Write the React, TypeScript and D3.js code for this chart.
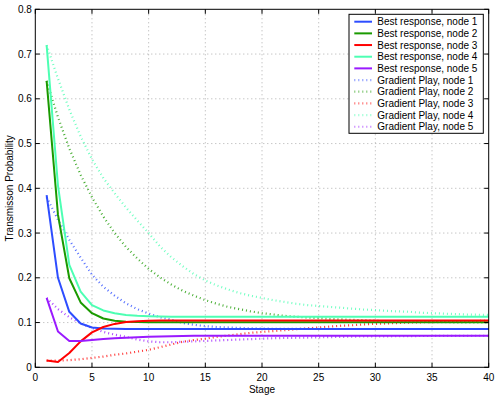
import * as d3 from "d3";

const stages = [
  1, 2, 3, 4, 5, 6, 7, 8, 9, 10, 11, 12, 13, 14, 15, 16, 17, 18, 19, 20,
  21, 22, 23, 24, 25, 26, 27, 28, 29, 30, 31, 32, 33, 34, 35, 36, 37, 38, 39, 40,
];

const brNode1 = [
  0.385, 0.2, 0.124, 0.098, 0.089, 0.0865, 0.086, 0.0858, 0.0857, 0.0856,
  0.0856, 0.0856, 0.0856, 0.0856, 0.0856, 0.0856, 0.0856, 0.0856, 0.0856, 0.0856,
  0.0856, 0.0856, 0.0856, 0.0856, 0.0856, 0.0856, 0.0856, 0.0856, 0.0856, 0.0856,
  0.0856, 0.0856, 0.0856, 0.0856, 0.0856, 0.0856, 0.0856, 0.0856, 0.0856, 0.0856,
];
const brNode2 = [
  0.64, 0.341, 0.199, 0.145, 0.121, 0.109, 0.104, 0.102, 0.101, 0.1005,
  0.1005, 0.1005, 0.1005, 0.1005, 0.1005, 0.1005, 0.1005, 0.1005, 0.1005, 0.1005,
  0.1005, 0.1005, 0.1005, 0.1005, 0.1005, 0.1005, 0.1005, 0.1005, 0.1005, 0.1005,
  0.1005, 0.1005, 0.1005, 0.1005, 0.1005, 0.1005, 0.1005, 0.1005, 0.1005, 0.1005,
];
const brNode3 = [
  0.015, 0.012, 0.032, 0.058, 0.078, 0.09, 0.097, 0.101, 0.103, 0.104,
  0.1045, 0.1045, 0.1045, 0.1045, 0.1045, 0.1045, 0.1045, 0.1045, 0.1045, 0.1045,
  0.1045, 0.1045, 0.1045, 0.1045, 0.1045, 0.1045, 0.1045, 0.1045, 0.1045, 0.1045,
  0.1045, 0.1045, 0.1045, 0.1045, 0.1045, 0.1045, 0.1045, 0.1045, 0.1045, 0.1045,
];
const brNode4 = [
  0.72, 0.406, 0.229, 0.169, 0.139, 0.127, 0.121, 0.117, 0.115, 0.114,
  0.1135, 0.113, 0.113, 0.113, 0.113, 0.113, 0.113, 0.113, 0.113, 0.113,
  0.113, 0.113, 0.113, 0.113, 0.113, 0.113, 0.113, 0.113, 0.113, 0.113,
  0.113, 0.113, 0.113, 0.113, 0.113, 0.113, 0.113, 0.113, 0.113, 0.113,
];
const brNode5 = [
  0.155, 0.08, 0.059, 0.059, 0.061, 0.063, 0.065, 0.066, 0.067, 0.068,
  0.069, 0.0695, 0.07, 0.0705, 0.0705, 0.0705, 0.0705, 0.0705, 0.0705, 0.0705,
  0.0705, 0.0705, 0.0705, 0.0705, 0.0705, 0.0705, 0.0705, 0.0705, 0.0705, 0.0705,
  0.0705, 0.0705, 0.0705, 0.0705, 0.0705, 0.0705, 0.0705, 0.0705, 0.0705, 0.0705,
];

const gpNode1 = [
  0.38, 0.33, 0.285, 0.245, 0.207, 0.18, 0.16, 0.143, 0.13, 0.12,
  0.112, 0.106, 0.099, 0.095, 0.092, 0.09, 0.089, 0.088, 0.087, 0.0865,
  0.086, 0.086, 0.0858, 0.0857, 0.0856, 0.0856, 0.0856, 0.0856, 0.0856, 0.0856,
  0.0856, 0.0856, 0.0856, 0.0856, 0.0856, 0.0856, 0.0856, 0.0856, 0.0856, 0.0856,
];
const gpNode2 = [
  0.64, 0.559, 0.489, 0.43, 0.38, 0.337, 0.3, 0.269, 0.243, 0.22,
  0.201, 0.185, 0.171, 0.16, 0.15, 0.142, 0.135, 0.13, 0.125, 0.121,
  0.118, 0.115, 0.113, 0.111, 0.11, 0.108, 0.107, 0.106, 0.105, 0.104,
  0.103, 0.1025, 0.102, 0.1015, 0.101, 0.1008, 0.1005, 0.1003, 0.1002, 0.1001,
];
const gpNode3 = [
  0.015, 0.015, 0.016, 0.018, 0.021, 0.024, 0.028, 0.031, 0.035, 0.039,
  0.045, 0.051, 0.057, 0.061, 0.064, 0.068, 0.071, 0.074, 0.077, 0.079,
  0.081, 0.083, 0.085, 0.087, 0.089, 0.091, 0.093, 0.094, 0.096, 0.097,
  0.098, 0.099, 0.1, 0.1005, 0.101, 0.102, 0.1025, 0.103, 0.1035, 0.104,
];
const gpNode4 = [
  0.72, 0.645, 0.576, 0.516, 0.465, 0.423, 0.389, 0.357, 0.328, 0.3,
  0.27, 0.246, 0.226, 0.208, 0.194, 0.183, 0.174, 0.166, 0.16, 0.155,
  0.15, 0.146, 0.142, 0.139, 0.137, 0.135, 0.133, 0.131, 0.129, 0.128,
  0.126, 0.125, 0.124, 0.122, 0.121, 0.12, 0.119, 0.118, 0.1175, 0.117,
];
const gpNode5 = [
  0.155, 0.13, 0.112, 0.098, 0.088, 0.079, 0.073, 0.068, 0.062, 0.058,
  0.056, 0.056, 0.057, 0.058, 0.059, 0.06, 0.061, 0.062, 0.063, 0.064,
  0.065, 0.0655, 0.066, 0.0665, 0.067, 0.0675, 0.068, 0.0685, 0.069, 0.069,
  0.0692, 0.0695, 0.0697, 0.07, 0.07, 0.0702, 0.0703, 0.0704, 0.0705, 0.0705,
];

const nodeColors = ["#2d4dff", "#1a9a00", "#ff0000", "#4dffb3", "#9a1aff"];
const seriesNames = [
  "Best response, node 1",
  "Best response, node 2",
  "Best response, node 3",
  "Best response, node 4",
  "Best response, node 5",
  "Gradient Play, node 1",
  "Gradient Play, node 2",
  "Gradient Play, node 3",
  "Gradient Play, node 4",
  "Gradient Play, node 5",
];
const xTicks = [0, 5, 10, 15, 20, 25, 30, 35, 40];
const yTicks = [0, 0.1, 0.2, 0.3, 0.4, 0.5, 0.6, 0.7, 0.8];

const brSeries = [brNode1, brNode2, brNode3, brNode4, brNode5];
const gpSeries = [gpNode1, gpNode2, gpNode3, gpNode4, gpNode5];

export default function App() {
  const width = 498;
  const height = 396;
  const margin = { top: 9.3, right: 9.3, bottom: 28.7, left: 35.3 };
  const font = "'Liberation Sans', Arial, Helvetica, sans-serif";

  const x = d3.scaleLinear().domain([0, 40]).range([margin.left, width - margin.right]);
  const y = d3.scaleLinear().domain([0, 0.8]).range([height - margin.bottom, margin.top]);

  const line = d3
    .line<number>()
    .x((_, i) => x(stages[i]))
    .y((d) => y(d));

  const [x0, x1] = x.range();
  const [y0, y1] = y.range();

  // legend placement
  const lg = { left: 349, top: 14.3, right: 483.3, bottom: 133.3, row: 11.67, first: 21.7 };

  return (
    <svg
      width={width}
      height={height}
      style={{ position: "absolute", left: 0, top: 0, background: "#fff" }}
      fontFamily={font}
    >
      <rect x={0} y={0} width={width} height={height} fill="#fff" />

      {/* grid */}
      {xTicks.slice(1, -1).map((t) => (
        <line key={`gx${t}`} x1={x(t)} x2={x(t)} y1={y0} y2={y1}
          stroke="#9a9a9a" strokeWidth={0.8} strokeDasharray="1 3" />
      ))}
      {yTicks.slice(1, -1).map((t) => (
        <line key={`gy${t}`} x1={x0} x2={x1} y1={y(t)} y2={y(t)}
          stroke="#9a9a9a" strokeWidth={0.8} strokeDasharray="1 3" />
      ))}

      {/* gradient play (dotted) */}
      {gpSeries.map((s, i) => (
        <path key={`gp${i}`} d={line(s) ?? ""} fill="none" stroke={nodeColors[i]}
          strokeWidth={2.2} strokeDasharray="1 3" strokeOpacity={0.8} />
      ))}

      {/* best response (solid) */}
      {brSeries.map((s, i) => (
        <path key={`br${i}`} d={line(s) ?? ""} fill="none" stroke={nodeColors[i]}
          strokeWidth={2} strokeLinejoin="round" />
      ))}

      {/* axes box and inward ticks */}
      <rect x={x0} y={y1} width={x1 - x0} height={y0 - y1} fill="none" stroke="#000" strokeWidth={1} />
      {xTicks.map((t) => (
        <g key={`tx${t}`}>
          <line x1={x(t)} x2={x(t)} y1={y0} y2={y0 - 4.5} stroke="#000" />
          <line x1={x(t)} x2={x(t)} y1={y1} y2={y1 + 4.5} stroke="#000" />
          <text x={x(t)} y={y0 + 13.5} textAnchor="middle" fontSize={10} fill="#000">{t}</text>
        </g>
      ))}
      {yTicks.map((t) => (
        <g key={`ty${t}`}>
          <line x1={x0} x2={x0 + 4.5} y1={y(t)} y2={y(t)} stroke="#000" />
          <line x1={x1} x2={x1 - 4.5} y1={y(t)} y2={y(t)} stroke="#000" />
          <text x={x0 - 3.5} y={y(t)} dy="0.35em" textAnchor="end" fontSize={10} fill="#000">
            {t === 0 ? "0" : t.toFixed(1)}
          </text>
        </g>
      ))}

      <text x={(x0 + x1) / 2} y={392.5} textAnchor="middle" fontSize={10} fill="#000">Stage</text>
      <text
        transform={`translate(13,${(y0 + y1) / 2}) rotate(-90)`}
        textAnchor="middle"
        fontSize={10}
        fill="#000"
      >
        Transmisson Probability
      </text>

      {/* legend */}
      <rect x={lg.left} y={lg.top} width={lg.right - lg.left} height={lg.bottom - lg.top}
        fill="#fff" stroke="#000" strokeWidth={1} />
      {seriesNames.map((name, i) => {
        const ry = lg.first + i * lg.row;
        const dotted = i >= 5;
        return (
          <g key={name}>
            <line x1={354.3} x2={372} y1={ry} y2={ry} stroke={nodeColors[i % 5]}
              strokeWidth={dotted ? 2.2 : 2}
              strokeDasharray={dotted ? "1 3" : undefined}
              strokeOpacity={dotted ? 0.6 : 1} />
            <text x={377.3} y={ry} dy="0.35em" fontSize={10} fill="#000">{name}</text>
          </g>
        );
      })}
    </svg>
  );
}
